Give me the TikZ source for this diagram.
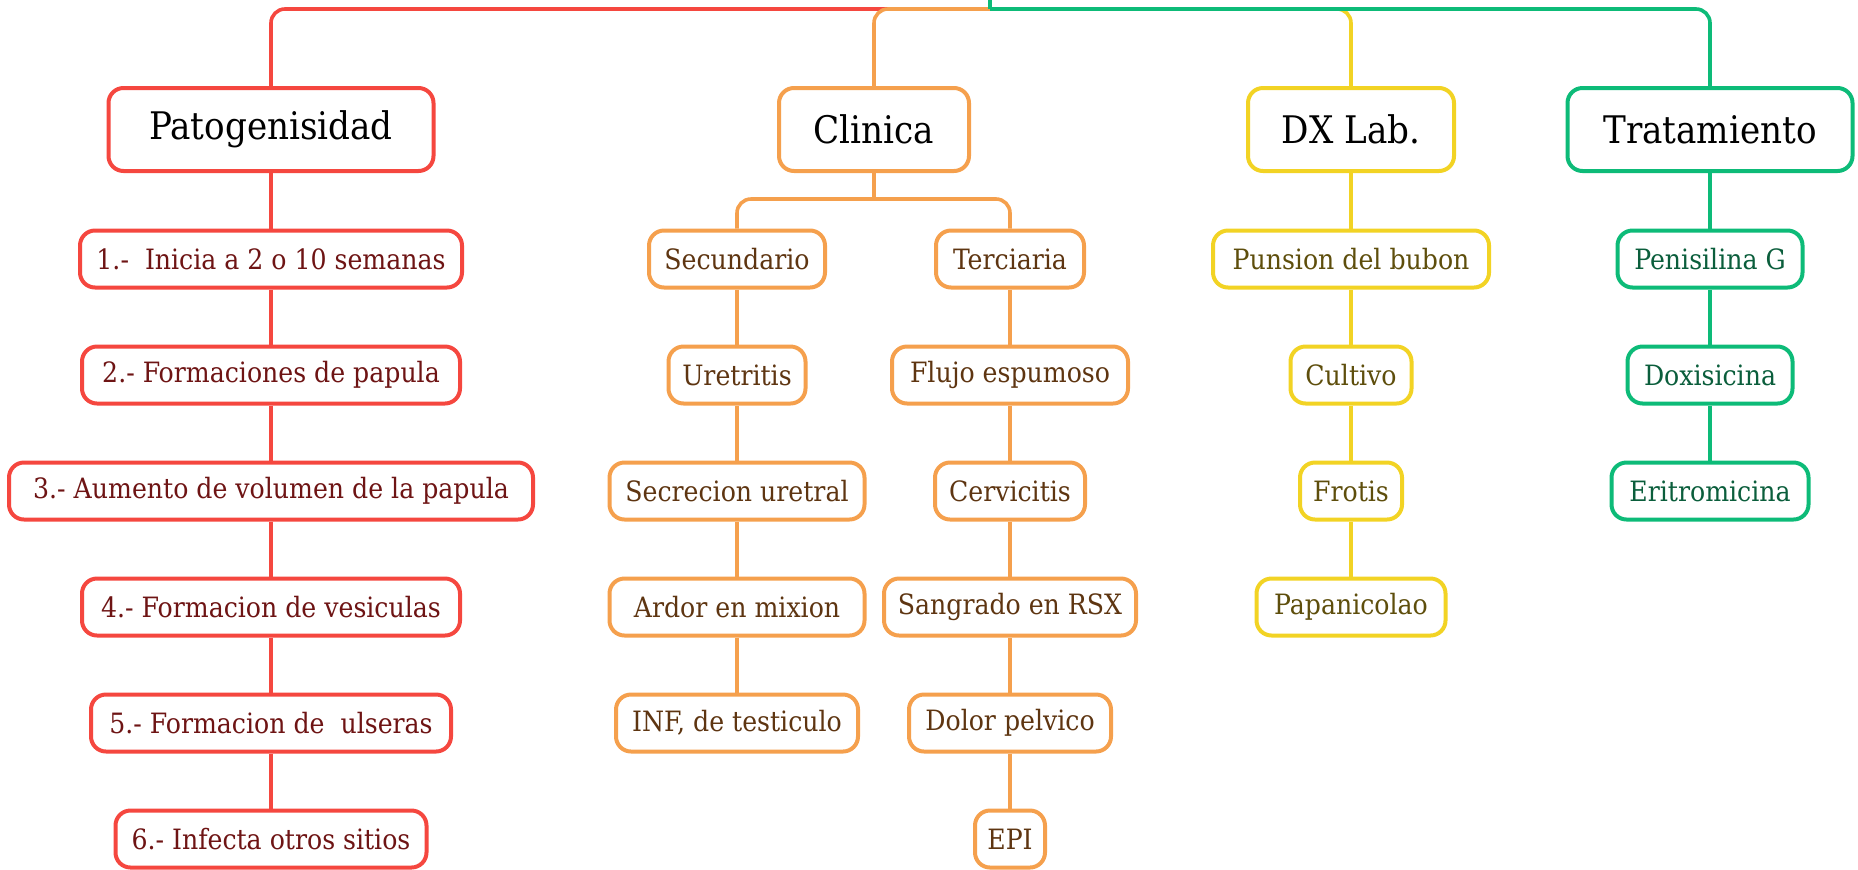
\documentclass[tikz,border=0pt]{standalone}
\usepackage{fontspec}
\setmainfont{DejaVu Serif Condensed}
\definecolor{patred}{HTML}{F5473F}
\definecolor{pattext}{HTML}{6E1414}
\definecolor{cliorange}{HTML}{F5A04D}
\definecolor{clitext}{HTML}{5E3511}
\definecolor{dxyellow}{HTML}{F2D324}
\definecolor{dxtext}{HTML}{5E4E0C}
\definecolor{tragreen}{HTML}{0DBB78}
\definecolor{tratext}{HTML}{0B5E3C}
\tikzset{
  hbox/.style={draw,line width=2pt,rounded corners=7.5pt,fill=white,inner sep=0pt,
    minimum height=41.5pt,font=\fontsize{19}{22}\selectfont,text=black},
  cbox/.style={draw,line width=2pt,rounded corners=7.5pt,fill=white,inner sep=0pt,
    minimum height=28.5pt,font=\fontsize{14}{17}\selectfont},
  wd/.style={minimum width=#1*0.5pt},
  redbox/.style={cbox,draw=patred,text=pattext},
  orangebox/.style={cbox,draw=cliorange,text=clitext},
  yellowbox/.style={cbox,draw=dxyellow,text=dxtext},
  greenbox/.style={cbox,draw=tragreen,text=tratext},
  link/.style={line width=1.8pt}
}
\begin{document}
\begin{tikzpicture}[x=0.5pt,y=-0.5pt]
  \useasboundingbox (0,0) rectangle (1858,869);

  \coordinate (root) at (990,0);
  \coordinate (hub) at (990,9);
  \coordinate (split) at (874,199);

  \node[hbox,draw=patred,wd=325] (pat) at (271,129.5) {Patogenisidad};
  \node[hbox,draw=cliorange,wd=190] (cli) at (874,129.5) {Clinica};
  \node[hbox,draw=dxyellow,wd=206] (dx) at (1351,129.5) {DX Lab.};
  \node[hbox,draw=tragreen,wd=285] (tra) at (1710,129.5) {Tratamiento};

  \node[redbox,wd=382] (p1) at (271,259) {1.-\ \ Inicia a 2 o 10 semanas};
  \node[redbox,wd=378] (p2) at (271,375) {2.- Formaciones de papula};
  \node[redbox,wd=524] (p3) at (271,491) {3.- Aumento de volumen de la papula};
  \node[redbox,wd=378] (p4) at (271,607) {4.- Formacion de vesiculas};
  \node[redbox,wd=360] (p5) at (271,723) {5.- Formacion de\ \ ulseras};
  \node[redbox,wd=311] (p6) at (271,839) {6.- Infecta otros sitios};

  \node[orangebox,wd=176] (sec) at (737,259) {Secundario};
  \node[orangebox,wd=137] (ure) at (737,375) {Uretritis};
  \node[orangebox,wd=255] (secu) at (737,491) {Secrecion uretral};
  \node[orangebox,wd=255] (ard) at (737,607) {Ardor en mixion};
  \node[orangebox,wd=242] (inf) at (737,723) {INF, de testiculo};

  \node[orangebox,wd=148] (ter) at (1010,259) {Terciaria};
  \node[orangebox,wd=236] (flu) at (1010,375) {Flujo espumoso};
  \node[orangebox,wd=150] (cer) at (1010,491) {Cervicitis};
  \node[orangebox,wd=252] (san) at (1010,607) {Sangrado en RSX};
  \node[orangebox,wd=202] (dol) at (1010,723) {Dolor pelvico};
  \node[orangebox,wd=70] (epi) at (1010,839) {EPI};

  \node[yellowbox,wd=276] (pun) at (1351,259) {Punsion del bubon};
  \node[yellowbox,wd=121] (cul) at (1351,375) {Cultivo};
  \node[yellowbox,wd=102] (fro) at (1351,491) {Frotis};
  \node[yellowbox,wd=189] (pap) at (1351,607) {Papanicolao};

  \node[greenbox,wd=185] (pen) at (1710,259) {Penisilina G};
  \node[greenbox,wd=165] (dox) at (1710,375) {Doxisicina};
  \node[greenbox,wd=197] (eri) at (1710,491) {Eritromicina};

  \draw[link,patred,rounded corners=7pt] (hub) -| (pat.north);
  \draw[link,cliorange,rounded corners=7pt] (hub) -| (cli.north);
  \draw[link,dxyellow,rounded corners=7pt] (hub) -| (dx.north);
  \draw[link,tragreen,rounded corners=7pt] (hub) -| (tra.north);
  \draw[link,tragreen] (root) -- (hub);

  \draw[link,patred] (pat) -- (p1) -- (p2) -- (p3) -- (p4) -- (p5) -- (p6);
  \draw[link,cliorange] (cli) -- (split);
  \draw[link,cliorange,rounded corners=7pt] (split) -| (sec.north);
  \draw[link,cliorange,rounded corners=7pt] (split) -| (ter.north);
  \draw[link,cliorange] (sec) -- (ure) -- (secu) -- (ard) -- (inf);
  \draw[link,cliorange] (ter) -- (flu) -- (cer) -- (san) -- (dol) -- (epi);
  \draw[link,dxyellow] (dx) -- (pun) -- (cul) -- (fro) -- (pap);
  \draw[link,tragreen] (tra) -- (pen) -- (dox) -- (eri);
\end{tikzpicture}
\end{document}
